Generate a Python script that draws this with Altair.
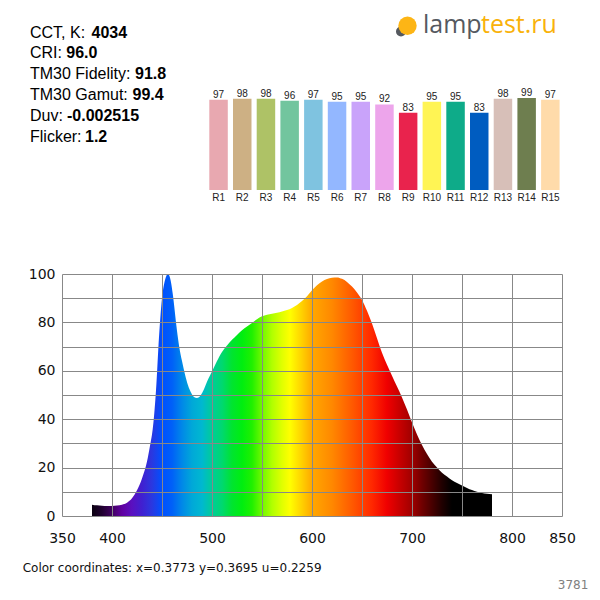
import altair as alt
import pandas as pd

# ---------------- data ----------------
wavelengths = [380, 385, 390, 395, 400, 405, 410, 415, 420, 425, 430, 435, 438, 441, 444, 447,
               450, 453, 456, 458, 461, 464, 467, 470, 473, 476, 479, 482, 485, 488, 491, 495,
               500, 505, 510, 515, 520, 525, 530, 535, 540, 545, 550, 555, 560, 565, 570, 575,
               580, 585, 590, 595, 600, 605, 610, 615, 620, 625, 630, 635, 640, 645, 650, 655,
               660, 665, 670, 675, 680, 685, 690, 695, 700, 705, 710, 715, 720, 725, 730, 735,
               740, 745, 750, 755, 760, 765, 770, 775, 780]
intensity = [4.7, 4.4, 4.2, 4.1, 4.1, 4.3, 4.7, 5.5, 7.3, 10.6, 15.5, 22.5, 29, 37, 52, 74,
             90, 97.5, 100, 98.5, 91, 80, 70.5, 64, 58.5, 54, 51, 49.2, 48.8, 49.5, 51.5, 55.5,
             59.7, 64, 67.8, 70.5, 72.8, 74.8, 76.8, 78.3, 79.8, 81.3, 82.5, 83.2, 83.6, 84, 84.5, 85.1,
             86, 87.2, 88.8, 90.8, 93.3, 95.4, 96.9, 97.9, 98.5, 98.6, 98, 96.7, 94.8, 92.4, 89.3, 84.8,
             79.5, 73.5, 67.5, 62.5, 58, 53.5, 49, 44, 38.6, 33.7, 29.3, 25.6, 22.4, 20, 17.9, 16.3,
             14.8, 13.6, 12.6, 11.6, 10.7, 10, 9.5, 9.2, 9.0]

ri_labels = ["R1", "R2", "R3", "R4", "R5", "R6", "R7", "R8", "R9", "R10",
             "R11", "R12", "R13", "R14", "R15"]
ri_values = [97, 98, 98, 96, 97, 95, 95, 92, 83, 95, 95, 83, 98, 99, 97]
ri_colors = ["#e8a8b0", "#cdb084", "#aec266", "#72c59e", "#7fc3e0", "#93b7ff", "#c9a3fa",
             "#eda5eb", "#e9234d", "#fff454", "#0eab89", "#005cc0", "#d7bfb8", "#6e7e4f", "#ffdbaa"]

info_labels = ["CCT, K:", "CRI:", "TM30 Fidelity:", "TM30 Gamut:", "Duv:", "Flicker:"]
info_values = ["4034", "96.0", "91.8", "99.4", "-0.002515", "1.2"]

coords_text = "Color coordinates: x=0.3773 y=0.3695 u=0.2259"
id_text = "3781"
logo_left = "lamp"
logo_right = "test.ru"

x_ticks = list(range(350, 851, 50))
x_hidden = [450, 550, 650, 750]
y_ticks = list(range(0, 101, 10))

# wavelength -> colour stops for the spectrum fill
spectrum_stops = [(380, "#0a0010"), (390, "#200030"), (400, "#400060"), (410, "#6000a0"),
                  (420, "#5a10c0"), (430, "#4020d0"), (440, "#2a38e0"), (450, "#0050ff"),
                  (460, "#0060f8"), (470, "#0088e8"), (480, "#00a8d8"), (490, "#00b8d0"),
                  (500, "#00cc99"), (510, "#00d870"), (520, "#00e430"), (530, "#00ee10"),
                  (540, "#20f000"), (550, "#70f800"), (560, "#b0ff00"), (570, "#e0ff00"),
                  (578, "#ffff00"), (590, "#ffd000"), (600, "#ffa800"), (610, "#ff9800"),
                  (620, "#ff8800"), (640, "#ff5a00"), (660, "#ff2800"), (675, "#f00000"),
                  (690, "#c00000"), (700, "#a00000"), (710, "#700000"), (720, "#480000"),
                  (730, "#200000"), (740, "#000000"), (780, "#000000")]

# ---------------- layout (page px -> plot px) ----------------
OX, OY = 62, 274


def rx(x):
    return x - OX


def ry(y):
    return y - OY


wl_min, wl_max = min(wavelengths), max(wavelengths)
gradient = {
    "gradient": "linear", "x1": 0, "x2": 1, "y1": 0, "y2": 0,
    "stops": [{"offset": (w - wl_min) / (wl_max - wl_min), "color": c} for w, c in spectrum_stops],
}

spec_df = pd.DataFrame({"nm": wavelengths, "val": intensity})
hidden_str = ",".join(str(v) for v in x_hidden)
GRID = "#888888"

spectrum = alt.Chart(spec_df).mark_area(color=gradient, interpolate="monotone", opacity=1).encode(
    x=alt.X("nm:Q", scale=alt.Scale(domain=[350, 850], nice=False, zero=False),
            axis=alt.Axis(values=x_ticks, grid=True, gridColor=GRID, gridOpacity=1, gridWidth=1,
                          ticks=False, domain=False, title=None, labelFont="DejaVu Sans",
                          labelFontSize=14, labelColor="#111111", labelPadding=15,
                          labelFlush=False, labelOverlap=False, zindex=1,
                          labelExpr=f"indexof([{hidden_str}], datum.value) >= 0 ? '' : datum.label")),
    y=alt.Y("val:Q", scale=alt.Scale(domain=[0, 100], nice=False),
            axis=alt.Axis(values=y_ticks, grid=True, gridColor=GRID, gridOpacity=1, gridWidth=1,
                          ticks=False, domain=False, title=None, labelFont="DejaVu Sans",
                          labelFontSize=14, labelColor="#111111", labelPadding=7,
                          labelFlush=False, labelOverlap=False, zindex=1,
                          labelExpr="datum.value % 20 == 0 ? datum.label : ''")),
)

# ---------------- colour rendering bars ----------------
ri_df = pd.DataFrame({"R": ri_labels, "v": ri_values})
bx = alt.X("R:N", sort=ri_labels,
           scale=alt.Scale(range=[rx(206.7), rx(562.2)], paddingInner=0.22, paddingOuter=0.11),
           axis=None)
by = alt.Y("v:Q", scale=alt.Scale(domain=[0, 100], range=[ry(190), ry(97)], nice=False), axis=None)

bars = alt.Chart(ri_df).mark_bar().encode(
    x=bx, y=by,
    color=alt.Color("R:N", scale=alt.Scale(domain=ri_labels, range=ri_colors), legend=None),
)
bar_vals = alt.Chart(ri_df).mark_text(baseline="alphabetic", dy=-2, fontSize=10,
                                      font="Liberation Sans", color="#222222").encode(
    x=bx, y=by, text="v:Q")
bar_names = alt.Chart(ri_df).mark_text(baseline="alphabetic", fontSize=10,
                                       font="Liberation Sans", color="#222222").encode(
    x=bx, y=alt.value(ry(200.7)), text="R:N")
bars_layer = alt.layer(bars, bar_vals, bar_names)

# ---------------- texts ----------------
texts = []
info_base = [37.7, 58.4, 79.1, 99.9, 120.7, 141.6]
info_val_x = [91.5, 66.3, 135, 132.5, 67, 85]
for lab, val, yb, xv in zip(info_labels, info_values, info_base, info_val_x):
    texts.append(alt.Chart(pd.DataFrame({"t": [lab]})).mark_text(
        align="left", baseline="alphabetic", font="Liberation Sans", fontSize=16, color="#000000"
    ).encode(text="t:N", x=alt.value(rx(30)), y=alt.value(ry(yb))))
    texts.append(alt.Chart(pd.DataFrame({"t": [val]})).mark_text(
        align="left", baseline="alphabetic", font="Liberation Sans", fontSize=16,
        fontWeight="bold", color="#000000"
    ).encode(text="t:N", x=alt.value(rx(xv)), y=alt.value(ry(yb))))

texts.append(alt.Chart(pd.DataFrame({"t": [coords_text]})).mark_text(
    align="left", baseline="alphabetic", font="DejaVu Sans", fontSize=12, color="#111111"
).encode(text="t:N", x=alt.value(rx(22.7)), y=alt.value(ry(571.7))))
texts.append(alt.Chart(pd.DataFrame({"t": [id_text]})).mark_text(
    align="right", baseline="alphabetic", font="DejaVu Sans", fontSize=12, color="#808080"
).encode(text="t:N", x=alt.value(rx(588.3)), y=alt.value(ry(589))))

# logo
texts.append(alt.Chart(pd.DataFrame({"t": ["base"]})).mark_circle(
    color="#55595f", opacity=1, size=100
).encode(x=alt.value(rx(401)), y=alt.value(ry(31.5))))
texts.append(alt.Chart(pd.DataFrame({"t": ["bulb"]})).mark_circle(
    color="#fdb515", opacity=1, size=339
).encode(x=alt.value(rx(407.5)), y=alt.value(ry(25.8))))
texts.append(alt.Chart(pd.DataFrame({"t": [logo_left]})).mark_text(
    align="left", baseline="alphabetic", font="Open Sans", fontSize=25, color="#55595f"
).encode(text="t:N", x=alt.value(rx(423)), y=alt.value(ry(33.3))))
texts.append(alt.Chart(pd.DataFrame({"t": [logo_right]})).mark_text(
    align="left", baseline="alphabetic", font="Open Sans", fontSize=25, color="#f9b20a"
).encode(text="t:N", x=alt.value(rx(481)), y=alt.value(ry(33.3))))

chart = alt.layer(spectrum, bars_layer, *texts).resolve_scale(
    x="independent", y="independent", color="independent"
).properties(
    width=500, height=242,
    autosize=alt.AutoSizeParams(type="none"),
    padding={"left": 54, "top": 266, "right": 30, "bottom": 84},
    background="white",
).configure_view(stroke=None)

chart.save("out.html", embed_options={"renderer": "svg", "actions": False})
